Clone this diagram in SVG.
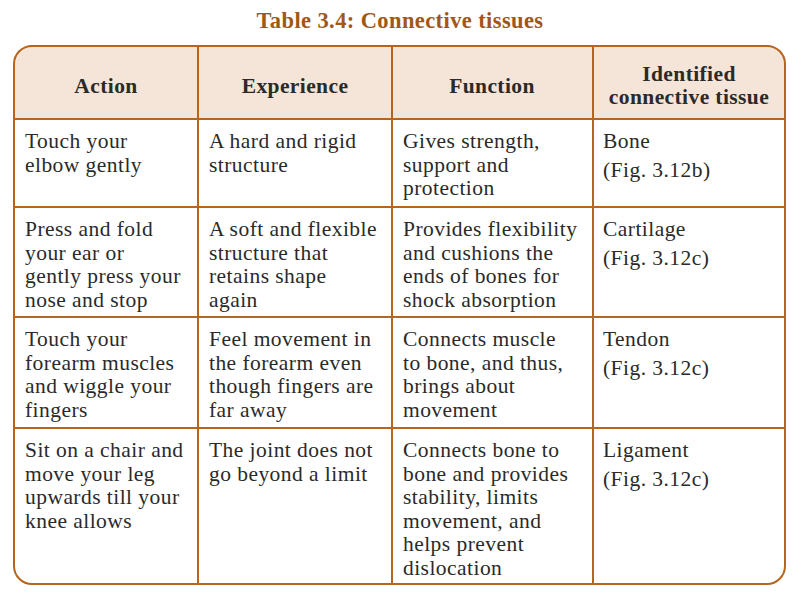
<svg xmlns="http://www.w3.org/2000/svg" width="800" height="598" viewBox="0 0 800 598">
<style>
.t{font-family:"Liberation Serif","DejaVu Serif",serif;font-size:21.5px;letter-spacing:0.45px;fill:#2a2a2a}
.h{font-family:"Liberation Serif","DejaVu Serif",serif;font-size:21.5px;letter-spacing:0.4px;font-weight:bold;fill:#2a2a2a;text-anchor:middle}
.ln{stroke:#b5651d;stroke-width:2;fill:none}
</style>
<rect width="800" height="598" fill="#fff"/>
<text x="400" y="28" text-anchor="middle" font-family="Liberation Serif,serif" font-weight="bold" font-size="22.5" letter-spacing="0.4" fill="#a0581a">Table 3.4: Connective tissues</text>
<g id="table">
<path d="M14,119 V64 Q14,46 32,46 H767 Q785,46 785,64 V119 Z" fill="#f5e5d8"/>
<rect x="14" y="46" width="771" height="538" rx="18" class="ln"/>
<g class="ln">
<line x1="14" y1="119" x2="785" y2="119"/>
<line x1="14" y1="207" x2="785" y2="207"/>
<line x1="14" y1="317" x2="785" y2="317"/>
<line x1="14" y1="428" x2="785" y2="428"/>
<line x1="198" y1="46" x2="198" y2="584"/>
<line x1="392" y1="46" x2="392" y2="584"/>
<line x1="593" y1="46" x2="593" y2="584"/>
</g>
</g>
<g id="header">
<text class="h" x="106" y="93">Action</text>
<text class="h" x="295" y="93">Experience</text>
<text class="h" x="492" y="93">Function</text>
<text class="h" x="689" y="81">Identified</text>
<text class="h" x="689" y="104">connective tissue</text>
</g>
<g id="row1" class="t">
<text x="25" y="148">Touch your</text><text x="25" y="171.5">elbow gently</text>
<text x="209" y="148">A hard and rigid</text><text x="209" y="171.5">structure</text>
<text x="403" y="148">Gives strength,</text><text x="403" y="171.5">support and</text><text x="403" y="195">protection</text>
<text x="603" y="148">Bone</text><text x="603" y="177">(Fig. 3.12b)</text>
</g>
<g id="row2" class="t">
<text x="25" y="236">Press and fold</text><text x="25" y="259.5">your ear or</text><text x="25" y="283">gently press your</text><text x="25" y="306.5">nose and stop</text>
<text x="209" y="236">A soft and flexible</text><text x="209" y="259.5">structure that</text><text x="209" y="283">retains shape</text><text x="209" y="306.5">again</text>
<text x="403" y="236">Provides flexibility</text><text x="403" y="259.5">and cushions the</text><text x="403" y="283">ends of bones for</text><text x="403" y="306.5">shock absorption</text>
<text x="603" y="236">Cartilage</text><text x="603" y="265">(Fig. 3.12c)</text>
</g>
<g id="row3" class="t">
<text x="25" y="346">Touch your</text><text x="25" y="369.5">forearm muscles</text><text x="25" y="393">and wiggle your</text><text x="25" y="416.5">fingers</text>
<text x="209" y="346">Feel movement in</text><text x="209" y="369.5">the forearm even</text><text x="209" y="393">though fingers are</text><text x="209" y="416.5">far away</text>
<text x="403" y="346">Connects muscle</text><text x="403" y="369.5">to bone, and thus,</text><text x="403" y="393">brings about</text><text x="403" y="416.5">movement</text>
<text x="603" y="346">Tendon</text><text x="603" y="375">(Fig. 3.12c)</text>
</g>
<g id="row4" class="t">
<text x="25" y="457">Sit on a chair and</text><text x="25" y="480.5">move your leg</text><text x="25" y="504">upwards till your</text><text x="25" y="527.5">knee allows</text>
<text x="209" y="457">The joint does not</text><text x="209" y="480.5">go beyond a limit</text>
<text x="403" y="457">Connects bone to</text><text x="403" y="480.5">bone and provides</text><text x="403" y="504">stability, limits</text><text x="403" y="527.5">movement, and</text><text x="403" y="551">helps prevent</text><text x="403" y="574.5">dislocation</text>
<text x="603" y="457">Ligament</text><text x="603" y="486">(Fig. 3.12c)</text>
</g>
</svg>
